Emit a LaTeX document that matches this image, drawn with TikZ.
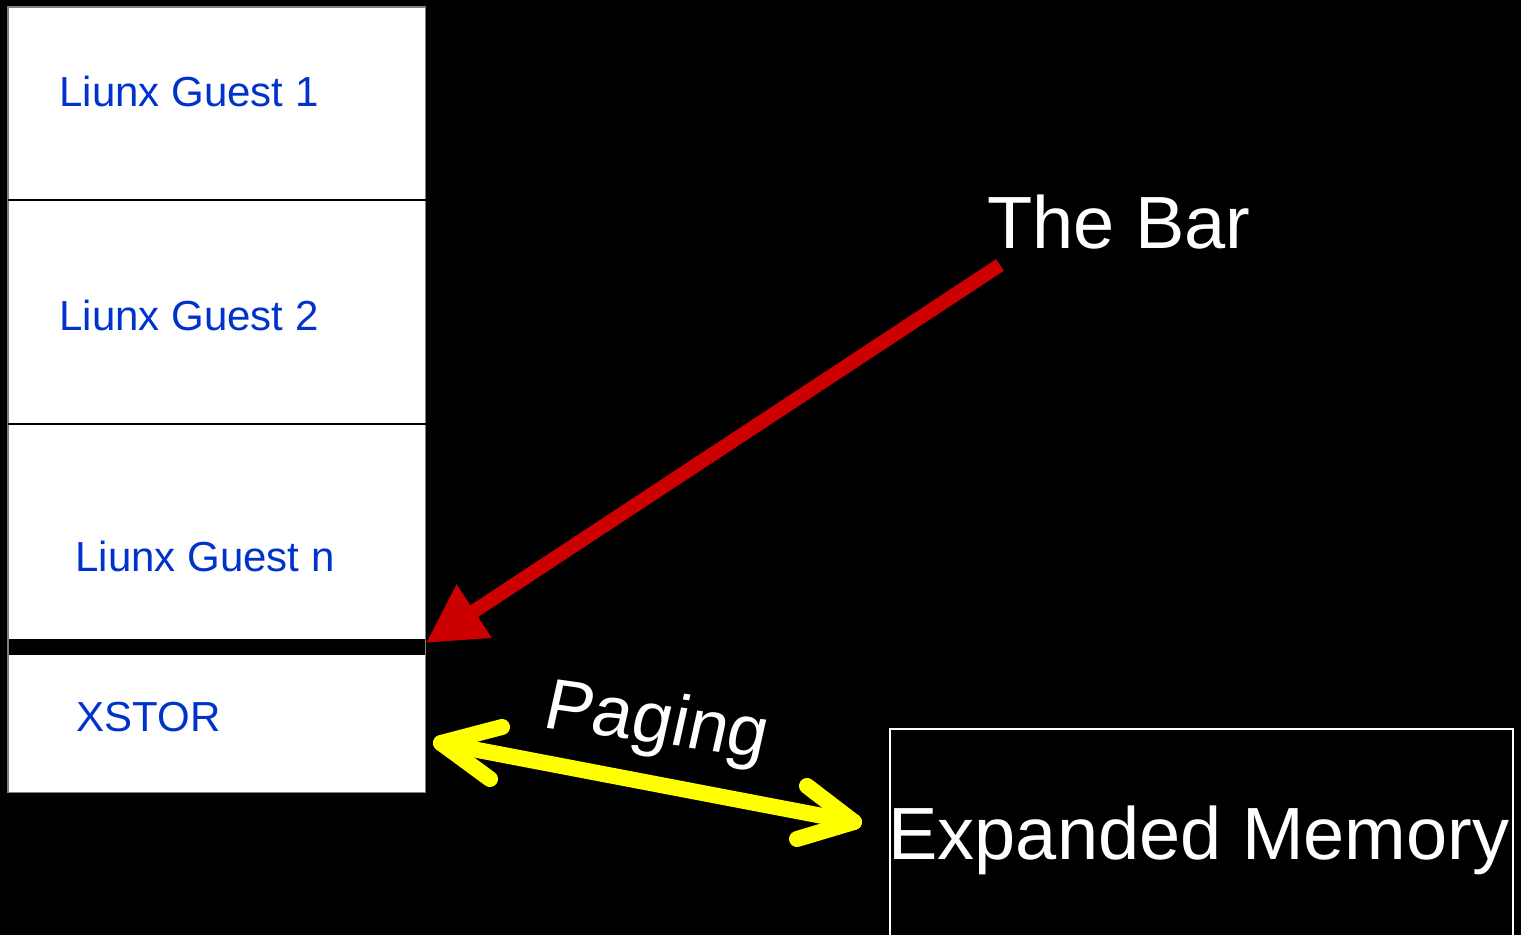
\documentclass[tikz,border=0pt]{standalone}
\usepackage{fontspec}
\setmainfont{Liberation Sans}
\usetikzlibrary{arrows.meta}
\definecolor{guestblue}{RGB}{0,51,204}
\definecolor{barred}{RGB}{204,0,0}
\definecolor{pageyellow}{RGB}{255,255,0}
\definecolor{edgegray}{RGB}{128,128,128}
\tikzset{
  slot/.style={draw=none, fill=white, anchor=north west, inner sep=0pt, minimum width=208.5pt},
  bluetext/.style={anchor=base west, inner sep=0pt, text=guestblue, font=\fontsize{21pt}{24pt}\selectfont},
  bigtext/.style={anchor=base west, inner sep=0pt, text=white},
  divider/.style={draw=black, line width=1pt},
  redarrow/.style={draw=barred, line width=7pt, -{Triangle[length=29pt,width=30pt]}},
  yellowarrow/.style={draw=pageyellow, line width=8pt, line cap=round, line join=round}
}
\begin{document}
\begin{tikzpicture}[x=0.5pt,y=-0.5pt]
\fill[black] (0,0) rectangle (1521,935);
\useasboundingbox (0,0) rectangle (1521,935);
% stack
\node[slot, minimum height=96pt] (g1) at (8,7) {};
\node[slot, minimum height=112pt] (g2) at (8,199) {};
\node[slot, minimum height=108.5pt] (gn) at (8,423) {};
\node[slot, fill=black, minimum height=8pt] (bar) at (8,639) {};
\node[slot, minimum height=68.5pt] (xs) at (8,655) {};
\draw[edgegray, line width=0.6pt] (g1.north west) rectangle (xs.south east);
\draw[divider] (g1.south west) -- (g1.south east);
\draw[divider] (g2.south west) -- (g2.south east);
\node[bluetext] (t1) at (59,107) {Liunx Guest 1};
\node[bluetext] (t2) at (59,331) {Liunx Guest 2};
\node[bluetext] (tn) at (75,571) {Liunx Guest n};
\node[bluetext] (tx) at (76,731) {XSTOR};
% expanded memory
\node[draw=white, line width=1pt, anchor=north west, inner sep=0pt, minimum width=311.5pt, minimum height=106pt] (mem) at (889,728) {};
\node[bigtext, font=\fontsize{37pt}{40pt}\selectfont] (memt) at (888,859) {Expanded Memory};
% the bar
\node[bigtext, font=\fontsize{37pt}{40pt}\selectfont] (thebar) at (987,249) {The Bar};
\coordinate (redstart) at (1000,265);
\draw[redarrow] (redstart) -- ([yshift=-2pt]bar.north east);
% paging
\node[bigtext, font=\fontsize{36pt}{40pt}\selectfont, rotate=-8, xslant=0.08] (paging) at (541,727) {Paging};
\coordinate (ytipL) at (441,743);
\coordinate (ytipR) at (854,822);
\coordinate (yLa) at (502,727);
\coordinate (yLb) at (490,779);
\coordinate (yRa) at (807,786);
\coordinate (yRb) at (797,839);
\draw[yellowarrow] (ytipL) -- (ytipR);
\draw[yellowarrow] (yLa) -- (ytipL) -- (yLb);
\draw[yellowarrow] (yRa) -- (ytipR) -- (yRb);
\end{tikzpicture}
\end{document}
